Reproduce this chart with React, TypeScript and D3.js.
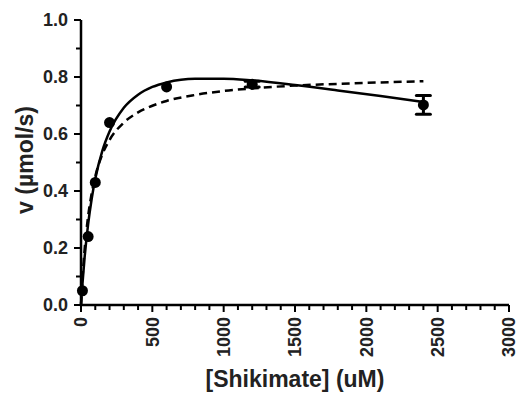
import React from "react";
import * as d3 from "d3";

const obsS = [10, 50, 100, 200, 600, 1200, 2400];
const obsV = [0.05, 0.24, 0.43, 0.64, 0.765, 0.775, 0.702];
const obsErr = [0, 0, 0, 0, 0, 0.01, 0.033];

const fitS = [0, 10, 25, 50, 75, 100, 150, 200, 300, 400, 500, 600, 800, 1000, 1200, 1500, 1800, 2100, 2400];
const solidV = [0, 0.073, 0.165, 0.284, 0.373, 0.443, 0.542, 0.609, 0.692, 0.738, 0.765, 0.781, 0.794, 0.794, 0.788, 0.772, 0.753, 0.733, 0.712];
const dashedV = [0, 0.09, 0.193, 0.312, 0.392, 0.451, 0.529, 0.579, 0.64, 0.676, 0.699, 0.716, 0.737, 0.751, 0.76, 0.77, 0.776, 0.781, 0.785];

const xTicks = [0, 500, 1000, 1500, 2000, 2500, 3000];
const yTicks = [0.0, 0.2, 0.4, 0.6, 0.8, 1.0];

const W = 518, H = 393;
const FONT = "'Liberation Sans', Arial, sans-serif";

export default function App() {
  const x = d3.scaleLinear().domain([0, 3000]).range([81, 509]);
  const y = d3.scaleLinear().domain([0, 1]).range([305, 20]);
  const line = d3.line<[number, number]>().x(d => x(d[0])).y(d => y(d[1])).curve(d3.curveMonotoneX);
  const solid = line(fitS.map((s, i) => [s, solidV[i]]) as [number, number][]) || "";
  const dashed = line(fitS.map((s, i) => [s, dashedV[i]]) as [number, number][]) || "";
  const xMinor = d3.range(0, 3001, 100);
  const yMinor = d3.range(0, 1.001, 0.1);
  return (
    <svg width={W} height={H} style={{ position: "absolute", left: 0, top: 0, background: "#fff" }}>
      <g fill="none" stroke="#000" strokeWidth={2.5} strokeLinecap="butt">
        <path d={`M${x(0)},${y(1)}V${y(0)}H${x(3000)}`} />
        {yMinor.map((v, i) => (
          <line key={"ym" + i} x1={x(0)} x2={x(0) - (i % 2 === 0 ? 7 : 5)} y1={y(v)} y2={y(v)} strokeWidth={2} />
        ))}
        {xMinor.map((v, i) => (
          <line key={"xm" + i} y1={y(0)} y2={y(0) + (i % 5 === 0 ? 7 : 5)} x1={x(v)} x2={x(v)} strokeWidth={2} />
        ))}
        <path d={dashed} strokeDasharray="8,5" />
        <path d={solid} />
      </g>
      {obsS.map((s, i) =>
        obsErr[i] > 0 ? (
          <g key={"e" + i} stroke="#000" strokeWidth={3}>
            <line x1={x(s)} x2={x(s)} y1={y(obsV[i] - obsErr[i])} y2={y(obsV[i] + obsErr[i])} />
            <line x1={x(s) - 7} x2={x(s) + 7} y1={y(obsV[i] - obsErr[i])} y2={y(obsV[i] - obsErr[i])} strokeLinecap="round" />
            <line x1={x(s) - 7} x2={x(s) + 7} y1={y(obsV[i] + obsErr[i])} y2={y(obsV[i] + obsErr[i])} strokeLinecap="round" />
          </g>
        ) : null
      )}
      {obsS.map((s, i) => (
        <circle key={"p" + i} cx={x(s)} cy={y(obsV[i])} r={5.5} fill="#000" />
      ))}
      <g fontFamily={FONT} fontWeight="bold" fontSize={18} fill="#222">
        {yTicks.map(v => (
          <text key={"yt" + v} x={x(0) - 13} y={y(v)} dy="0.36em" textAnchor="end">{v.toFixed(1)}</text>
        ))}
        {xTicks.map(v => (
          <text key={"xt" + v} transform={`translate(${x(v)},${y(0) + 12}) rotate(-90)`} dy="0.36em" textAnchor="end">{v}</text>
        ))}
        <text x={(x(0) + x(3000)) / 2} y={387} textAnchor="middle" fontSize={23}>[Shikimate] (uM)</text>
        <text transform={`translate(33,${160}) rotate(-90)`} textAnchor="middle" fontSize={23}>v (µmol/s)</text>
      </g>
    </svg>
  );
}
